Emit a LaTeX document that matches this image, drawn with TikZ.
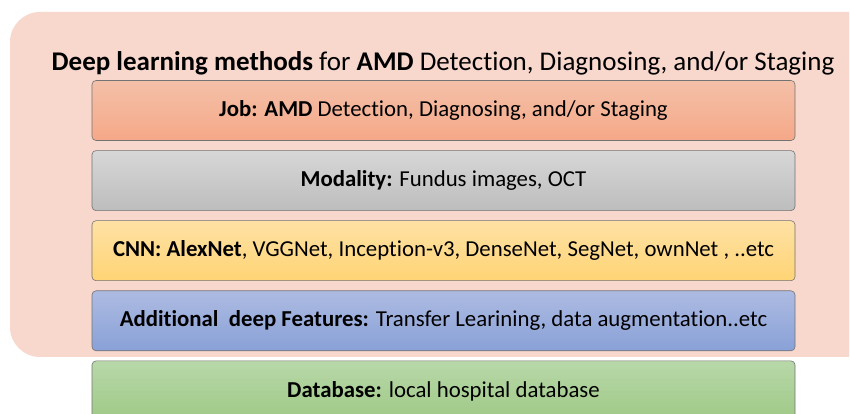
\documentclass[tikz,border=0pt]{standalone}
\usepackage{fontspec}
\setmainfont{Carlito}[Ligatures=CommonOff]
\usetikzlibrary{positioning}
\definecolor{bgpink}{HTML}{F8D7CD}
\definecolor{jobtop}{HTML}{F4C0A8}
\definecolor{jobbot}{HTML}{F5A888}
\definecolor{modtop}{HTML}{D7D7D7}
\definecolor{modbot}{HTML}{BDBDBD}
\definecolor{cnntop}{HTML}{FEE1A4}
\definecolor{cnnbot}{HTML}{FFD475}
\definecolor{feattop}{HTML}{ADBBE2}
\definecolor{featbot}{HTML}{89A1D7}
\definecolor{dbtop}{HTML}{B8D8A9}
\definecolor{dbbot}{HTML}{9FC986}
\begin{document}
\begin{tikzpicture}[x=1pt,y=1pt,
    layer/.style={draw=gray!90!black,line width=0.6pt,rounded corners=4pt,minimum width=703pt,minimum height=60pt,inner sep=0pt,font=\fontsize{22.8}{26}\selectfont},
    title/.style={font=\fontsize{27}{30}\selectfont,inner sep=0pt}]
        \useasboundingbox (0,0) rectangle (850,414);
        \fill[bgpink] (849,402) [rounded corners=30pt]--(10,402)--(10,57)[sharp corners]--(849,57)--cycle;
        \node[title] (head) at (443,351){\textbf{Deep learning methods} for \textbf{AMD} Detection, Diagnosing, and/or Staging};
        \node[layer,top color=jobtop,bottom color=jobbot] (job) at (443.5,303.5){\textbf{Job: AMD} Detection, Diagnosing, and/or Staging};
        \node[layer,top color=modtop,bottom color=modbot,below=9.5pt of job] (modality){\textbf{Modality:} Fundus images, OCT};
        \node[layer,top color=cnntop,bottom color=cnnbot,below=9.5pt of modality] (cnn){\textbf{CNN: AlexNet}, VGGNet, Inception-v3, DenseNet, SegNet, ownNet , ..etc};
        \node[layer,top color=feattop,bottom color=featbot,below=9.5pt of cnn] (features){\textbf{Additional\ \ deep Features:} Transfer Learining, data augmentation..etc};
        \node[layer,top color=dbtop,bottom color=dbbot,below=9.5pt of features] (database){\textbf{Database:} local hospital database};
    \end{tikzpicture}
\end{document}
